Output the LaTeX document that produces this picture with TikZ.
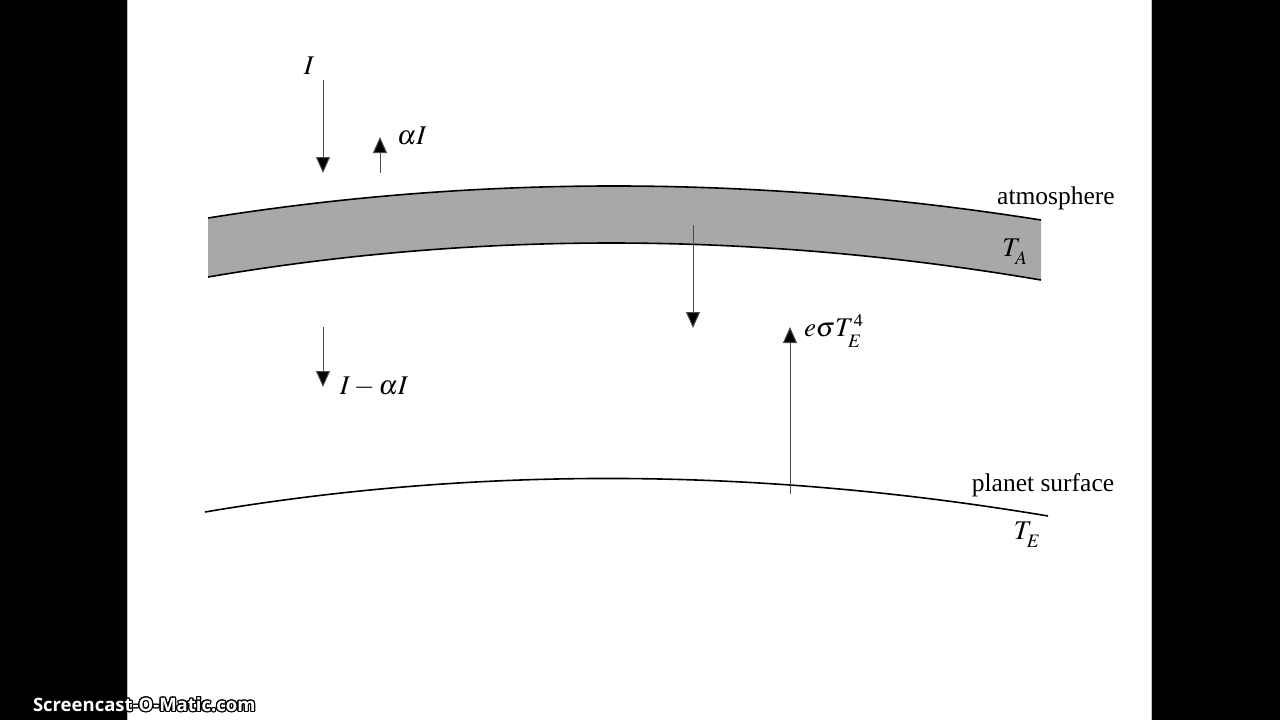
\documentclass[tikz,border=0pt]{standalone}
\usepackage{mathptmx}
\usepackage{fontspec}
\setmainfont{Liberation Serif}
\newfontfamily\wmfont{Open Sans}
\usepackage{contour}
\contourlength{1.2pt}
\usetikzlibrary{arrows.meta}
\definecolor{bandgray}{HTML}{A8A8A8}
\newcommand{\mysub}[1]{\raisebox{-4pt}{\fontsize{19}{19}\selectfont$#1$}}
\begin{document}
\begin{tikzpicture}[x=1pt,y=-1pt,
  every node/.style={inner sep=0pt, outer sep=0pt},
  lbl/.style={font=\fontsize{25.5}{30}\selectfont},
  mlbl/.style={font=\fontsize{27}{32}\selectfont},
  flux/.style={draw=black!70, line width=1pt, -{Triangle[width=14pt,length=16pt,fill=black]}},
  edge/.style={draw=black, line width=1.6pt}]
\useasboundingbox (0,0) rectangle (1280,720);
\fill[black] (0,0) rectangle (1280,720);
\fill[white] (127,0) rectangle (1152,720);
\draw[black!25, line width=1pt] (127.5,0) -- (127.5,720);
\draw[black!25, line width=1pt] (1151.5,0) -- (1151.5,720);
% atmosphere band
\fill[bandgray] (208,218) .. controls (479.7,174.7) and (757.3,175.3) .. (1041,220)
  -- (1041,280) .. controls (757.3,231.7) and (479.7,230.7) .. (208,277) -- cycle;
\draw[edge] (208,218) .. controls (479.7,174.7) and (757.3,175.3) .. (1041,220);
\draw[edge] (208,277) .. controls (479.7,230.7) and (757.3,231.7) .. (1041,280);
% planet surface
\draw[edge] (205,512) .. controls (477,466) and (758,467.3) .. (1048,516);
% coordinates for arrows
\coordinate (i1) at (323,80);
\coordinate (i2) at (323,173);
\coordinate (a1) at (380,173);
\coordinate (a2) at (380,137);
\coordinate (t1) at (323,327);
\coordinate (t2) at (323,387);
\coordinate (d1) at (693,225);
\coordinate (d2) at (693,328);
\coordinate (u1) at (790,494);
\coordinate (u2) at (790,327);
\draw[flux] (i1) -- (i2);
\draw[flux] (a1) -- (a2);
\draw[flux] (t1) -- (t2);
\draw[flux] (d1) -- (d2);
\draw[flux] (u1) -- (u2);
% labels
\node[mlbl] (lI) at (309,66) {$I$};
\node[mlbl] (laI) at (412,136) {$\alpha I$};
\node[mlbl] (lIaI) at (374,387) {$I-\alpha I$};
\node[mlbl, anchor=west] (lem) at (804,331) {$e\sigma T_{\mysub{E}}^{\raisebox{1pt}{\fontsize{18}{18}\selectfont 4}}$};
\node[mlbl] (lTA) at (1015,252) {$T_{\mysub{A}}$};
\node[lbl] (latm) at (1056,198) {atmosphere};
\node[lbl] (lps) at (1043,485) {planet surface};
\node[mlbl] (lTE) at (1027,535) {$T_{\mysub{E}}$};
% watermark
\node[anchor=west, font=\wmfont\bfseries\fontsize{18.5}{22}\selectfont] (wm) at (33,705)
  {\contour{black}{\textcolor{white}{Screencast-O-Matic.com}}};
\end{tikzpicture}
\end{document}
